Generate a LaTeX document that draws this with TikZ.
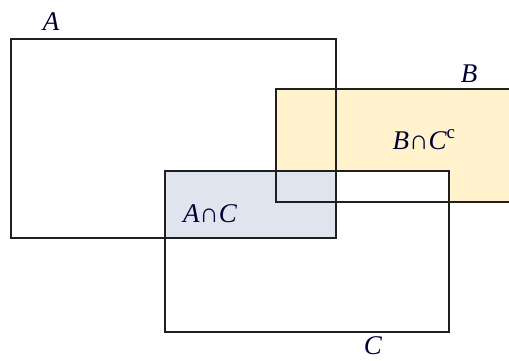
\documentclass[tikz,border=0pt]{standalone}
\usepackage{fontspec}
\setmainfont{Liberation Serif}
\begin{document}
\begin{tikzpicture}[x=1pt,y=-1pt,
  setline/.style={draw=black!88, line width=2.5pt},
  setlabel/.style={inner sep=0pt, font=\fontsize{27}{27}\selectfont\itshape\addfontfeature{LetterSpace=6}, text=black!80!blue}]
\useasboundingbox (0,0) rectangle (509,360);
% shaded regions: B minus C, and A intersect C
\fill[fill={rgb,255:red,255;green,242;blue,204}]
  (276,89) -- (515,89) -- (515,202) -- (449,202) -- (449,171) -- (276,171) -- cycle;
\fill[fill={rgb,255:red,222;green,229;blue,239}] (165,171) rectangle (336,238);
% the three sets
\draw[setline] (11,39) rectangle (336,238);
\draw[setline] (515,89) -- (276,89) -- (276,202) -- (515,202);
\draw[setline] (165,171) rectangle (449,332);
% labels
\node[setlabel] (la) at (51,22) {A};
\node[setlabel] (lb) at (469,74) {B};
\node[setlabel] (lbc) at (424,140) {B{\upshape ∩}C\raisebox{2pt}{\textsuperscript{\upshape c}}};
\node[setlabel] (lac) at (210,214) {A{\upshape ∩}C};
\node[setlabel] (lc) at (373,346) {C};
\end{tikzpicture}
\end{document}
